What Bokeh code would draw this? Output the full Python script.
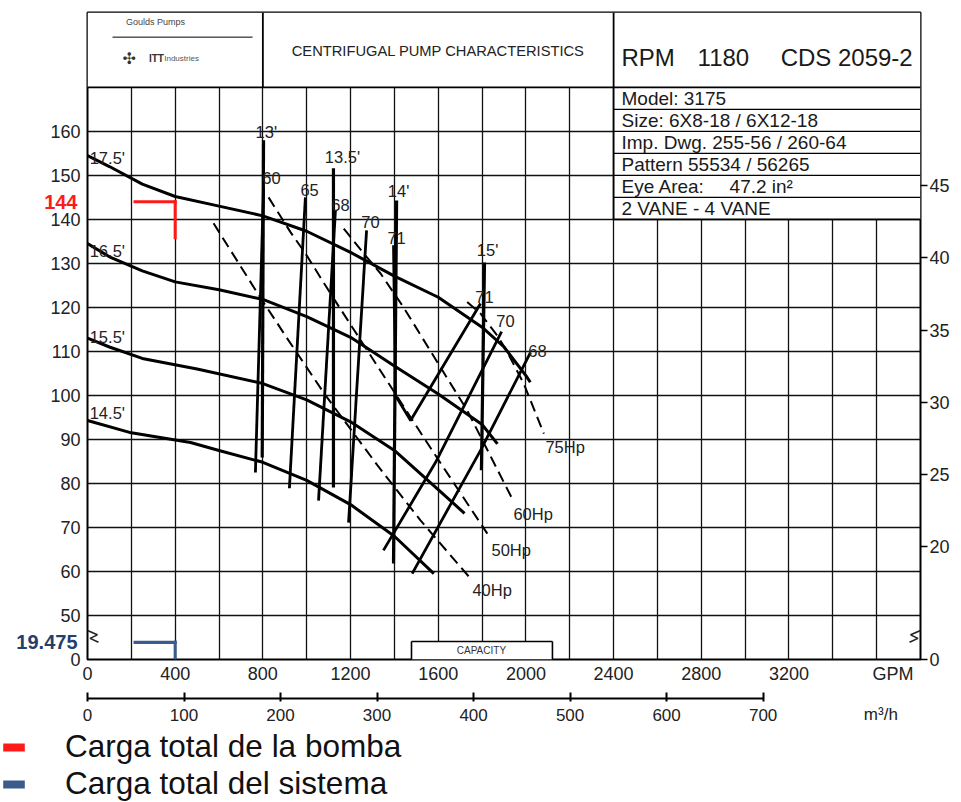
from bokeh.plotting import figure
from bokeh.layouts import column
from bokeh.models import (Range1d, LinearAxis, FixedTicker, Legend, LegendItem, ColumnDataSource)
from bokeh.core.properties import value
from bokeh.embed import file_html
from bokeh.resources import INLINE

FONT = "Liberation Sans"

# ---------------- data (capacity in GPM, head in ft) ----------------
imp_175_q = [0, 100, 250, 400, 600, 800, 1000, 1200, 1400, 1600, 1800, 1900, 2000, 2020]
imp_175_h = [154.5, 152, 148, 145.2, 143, 140.8, 137.3, 132.5, 127.1, 122.3, 115.5, 111, 104.5, 103]
imp_165_q = [0, 100, 250, 400, 600, 800, 1000, 1200, 1400, 1600, 1800, 1870]
imp_165_h = [134.5, 131.5, 128.3, 125.8, 124, 121.8, 117.9, 113.2, 106.7, 100.3, 93.4, 89]
imp_155_q = [0, 100, 250, 500, 800, 1000, 1200, 1400, 1600, 1720]
imp_155_h = [113, 111, 108.4, 106, 102.7, 99, 94, 87.5, 78.6, 73.2]
imp_145_q = [0, 200, 470, 600, 800, 1000, 1200, 1400, 1580]
imp_145_h = [94.3, 91.5, 89.3, 87.5, 84.8, 80.7, 75.2, 68, 59.5]
imp_labels = ["17.5'", "16.5'", "15.5'", "14.5'"]

# efficiency lines (%)
eff_60_q, eff_60_h = [803, 766], [147.0, 82.5]
eff_65_q, eff_65_h = [994, 921], [145.0, 78.9]
eff_68a_q, eff_68a_h = [1131, 1054], [142.0, 76.1]
eff_70a_q, eff_70a_h = [1273, 1191], [137.5, 71.1]
eff_71_q, eff_71_h = [1396, 1405, 1474, 1793], [134.1, 100.0, 94.3, 120.9]
eff_70b_q, eff_70b_h = [1889, 1588, 1350], [114.5, 84.8, 64.8]
eff_68b_q, eff_68b_h = [2021, 1793, 1481], [109.8, 87.5, 59.5]
eff_labels = ["60", "65", "68", "70", "71", "71", "70", "68"]

# NPSHR lines (ft)
npsh_13_q, npsh_13_h = [803, 797], [158.0, 85.9]
npsh_135_q, npsh_135_h = [1122, 1122], [151.6, 79.1]
npsh_14_q, npsh_14_h = [1410, 1396], [144.3, 61.8]
npsh_15_q, npsh_15_h = [1811, 1797], [130.2, 83.0]
npsh_labels = ["13'", "13.5'", "14'", "15'"]

# power lines (Hp)
hp_40_q = [575, 776, 917, 1086, 1323, 1519, 1747]
hp_40_h = [139.1, 123.2, 112.5, 100.0, 84.1, 71.6, 58.4]
hp_50_q = [826, 926, 995, 1109, 1542, 1824]
hp_50_h = [145.0, 137.1, 132.2, 123.1, 89.8, 68.6]
hp_60_q = [1169, 1259, 1337, 1442, 1610, 1732, 1945]
hp_60_h = [137.9, 132.3, 127.7, 120.0, 106.4, 96.6, 75.8]
hp_75_q = [1732, 1793, 1869, 1907, 1990, 2082]
hp_75_h = [121.2, 118.6, 113.6, 110.6, 102.7, 91.3]
hp_labels = ["40Hp", "50Hp", "60Hp", "75Hp"]

# operating point (400 GPM)
q_op = 400
q_mark = 210
h_bomba = 144
h_bomba_low = 135.5
h_sistema = 19.475
legend_labels = ["Carga total de la bomba", "Carga total del sistema"]

# axes
gpm_ticks = [0, 400, 800, 1200, 1600, 2000, 2400, 2800, 3200]
ft_ticks = [50, 60, 70, 80, 90, 100, 110, 120, 130, 140, 150, 160]
m_ticks = [20, 25, 30, 35, 40, 45]
m3h_ticks = [0, 100, 200, 300, 400, 500, 600, 700]
GPM_PER_M3H = 4.4029
FT_TO_M = 0.3048

# header text
title_text = "CENTRIFUGAL PUMP CHARACTERISTICS"
rpm_text = ["RPM", "1180", "CDS 2059-2"]
table_rows = ["Model: 3175", "Size: 6X8-18 / 6X12-18", "Imp. Dwg. 255-56 / 260-64",
              "Pattern 55534 / 56265", "Eye Area:", "2 VANE - 4 VANE"]

# ---------------- broken axis: 0..50 ft squeezed to one grid step ----------------
BASE = 40.0
def yb(h):
    return h if h >= 50 else BASE + h / 5.0

X0, X1, Y1 = 0, 3800, 187
TXT = "#1a1a1a"
RED, BLUE_LINE, BLUE_TXT = "#ff1a1a", "#3b5b8c", "#243f6e"
BAR_H, BAR_W = 0.7, 14

p = figure(width=961, height=728, x_range=Range1d(X0, X1), y_range=Range1d(BASE, Y1),
           output_backend="svg", toolbar_location=None,
           min_border_left=87, min_border_right=41, min_border_top=12, min_border_bottom=69,
           background_fill_color="white", border_fill_color="white")
p.outline_line_color = "black"
p.outline_line_width = 2

# grid
p.xgrid.ticker = FixedTicker(ticks=list(range(200, 3800, 200)))
p.ygrid.ticker = FixedTicker(ticks=ft_ticks)
for g in (p.xgrid, p.ygrid):
    g.grid_line_color = "#111111"
    g.grid_line_width = 1.3

# header blocks and capacity box
cap_top = yb(20.5)
p.quad(left=[0, 2400, 1478], right=[3800, 3800, 2121], bottom=[170, 140, BASE], top=[Y1, 170, cap_top],
       fill_color="white", line_color=None)
p.segment(x0=[0, 800, 2400, 2400, 2400, 2400, 2400, 2400, 2400, 1478, 1478, 2121, 114],
          y0=[170, 170, 140, 165, 160, 155, 150, 145, 140, cap_top, BASE, BASE, 181.4],
          x1=[3800, 800, 2400, 3800, 3800, 3800, 3800, 3800, 3800, 2121, 1478, 2121, 753],
          y1=[170, Y1, Y1, 165, 160, 155, 150, 145, 140, cap_top, cap_top, cap_top, 181.4],
          line_color="black",
          line_width=[1.8, 1.8, 1.8, 1.4, 1.4, 1.4, 1.4, 1.4, 1.6, 1.6, 1.6, 1.6, 1.0])

# axis-break marks just inside both edges of the squeezed 0-50 ft band
p.line([0, 45, 12, 50], [46.6, 45.6, 44.8, 43.9], line_color="#222222", line_width=1.6)
p.line([3800, 3755, 3788, 3750], [46.6, 45.6, 44.8, 43.9], line_color="#222222", line_width=1.6)

# curves
for q, h in [(imp_175_q, imp_175_h), (imp_165_q, imp_165_h), (imp_155_q, imp_155_h), (imp_145_q, imp_145_h)]:
    p.line(q, h, line_color="black", line_width=3)
for q, h in [(eff_60_q, eff_60_h), (eff_65_q, eff_65_h), (eff_68a_q, eff_68a_h), (eff_70a_q, eff_70a_h),
             (eff_71_q, eff_71_h), (eff_70b_q, eff_70b_h), (eff_68b_q, eff_68b_h)]:
    p.line(q, h, line_color="black", line_width=2.8)
for q, h in [(npsh_13_q, npsh_13_h), (npsh_135_q, npsh_135_h), (npsh_14_q, npsh_14_h), (npsh_15_q, npsh_15_h)]:
    p.line(q, h, line_color="black", line_width=3.2)
for q, h in [(hp_40_q, hp_40_h), (hp_50_q, hp_50_h), (hp_60_q, hp_60_h), (hp_75_q, hp_75_h)]:
    p.line(q, h, line_color="black", line_width=2, line_dash="11 6")

# operating point marks (bars of about 3 px thickness)
def op_marks(fig, y_top, y_low, color):
    r = fig.hbar(y=[y_top], left=[q_mark], right=[q_op + BAR_W / 2], height=BAR_H,
                 fill_color=color, line_color=None)
    fig.vbar(x=[q_op], bottom=[y_low], top=[y_top + BAR_H / 2], width=BAR_W,
             fill_color=color, line_color=None)
    return r

op_marks(p, h_bomba, h_bomba_low, RED)
op_marks(p, yb(h_sistema), yb(0), BLUE_LINE)

# chart texts
LBL = "16.5px"
left_src = ColumnDataSource(dict(
    x=[10, 10, 10, 10, 2089, 1943, 1843, 1756],
    y=[153.9, 132.7, 113.2, 95.9, 88.2, 73.0, 64.8, 55.9],
    t=imp_labels + ["75Hp", "60Hp", "50Hp", "40Hp"]))
p.text(x="x", y="y", text="t", source=left_src, text_font=value(FONT), text_font_size=LBL,
       text_align="left", text_baseline="middle", text_color="#222222")
ctr_src = ColumnDataSource(dict(
    x=[839, 1013, 1154, 1291, 1410, 1811, 1907, 2053, 816, 1163, 1419, 1825],
    y=[149.3, 146.6, 143.2, 139.3, 135.7, 122.3, 116.8, 110.2, 159.8, 154.1, 146.4, 133.0],
    t=eff_labels + npsh_labels))
p.text(x="x", y="y", text="t", source=ctr_src, text_font=value(FONT), text_font_size=LBL,
       text_align="center", text_baseline="middle", text_color="#222222")
p.text(x=[1797], y=[42.1], text=["CAPACITY"], text_font=value(FONT), text_font_size="10px",
       text_align="center", text_baseline="middle", text_color="#333333")

# header texts
p.text(x=[1600], y=[178.2], text=[title_text], text_font=value(FONT), text_font_size="14.7px",
       text_align="center", text_baseline="middle", text_color="#222222")
p.text(x=[2436, 2783, 3162], y=[176.8] * 3, text=rpm_text, text_font=value(FONT),
       text_font_size="24px", text_align="left", text_baseline="middle", text_color=TXT)
p.text(x=[2436] * 6, y=[167.5, 162.5, 157.5, 152.5, 147.5, 142.5], text=table_rows,
       text_font=value(FONT), text_font_size="19px", text_align="left", text_baseline="middle",
       text_color=TXT)
p.text(x=[2929], y=[147.5], text=["47.2 in²"], text_font=value(FONT), text_font_size="19px",
       text_align="left", text_baseline="middle", text_color=TXT)
p.text(x=[310], y=[184.8], text=["Goulds Pumps"], text_font=value(FONT), text_font_size="9px",
       text_align="center", text_baseline="middle", text_color="#444444")
p.text(x=[190], y=[176.6], text=["✣"], text_font=value("DejaVu Sans"), text_font_size="16px",
       text_align="center", text_baseline="middle", text_color="#333333")
p.text(x=[280], y=[176.6], text=["ITT"], text_font=value(FONT), text_font_size="10px",
       text_font_style="bold", text_align="left", text_baseline="middle", text_color="#333333")
p.text(x=[350], y=[176.6], text=["Industries"], text_font=value(FONT), text_font_size="8px",
       text_align="left", text_baseline="middle", text_color="#555555")

# ---------------- axes ----------------
AX = "18px"
def style(ax, size=AX, color="#222222"):
    ax.minor_tick_line_color = None
    ax.major_label_text_font = FONT
    ax.major_label_text_font_size = size
    ax.major_label_text_color = color

ya = p.yaxis[0]
ya.ticker = FixedTicker(ticks=[BASE] + ft_ticks)
ya.major_label_overrides = {BASE: "0"}
ya.axis_line_color = None
ya.major_tick_out = 0
ya.major_tick_in = 0
ya.major_label_standoff = 7
style(ya)

# operating-point values, drawn back over the head-scale column
ax_b = LinearAxis(ticker=FixedTicker(ticks=[h_bomba]), axis_line_color=None,
                  major_tick_out=0, major_tick_in=0, major_label_standoff=-30,
                  major_label_text_font_style="bold")
style(ax_b, "20px", RED)
p.add_layout(ax_b, "left")
ax_s = LinearAxis(ticker=FixedTicker(ticks=[yb(h_sistema)]),
                  major_label_overrides={yb(h_sistema): f"{h_sistema:g}"}, axis_line_color=None,
                  major_tick_out=0, major_tick_in=0, major_label_standoff=-36,
                  major_label_text_font_style="bold")
style(ax_s, "20px", BLUE_TXT)
p.add_layout(ax_s, "left")

p.extra_y_ranges = {"m": Range1d(BASE * FT_TO_M, Y1 * FT_TO_M)}
ra = LinearAxis(y_range_name="m", ticker=FixedTicker(ticks=[BASE * FT_TO_M] + m_ticks))
ra.major_label_overrides = {BASE * FT_TO_M: "0"}
ra.axis_line_color = None
ra.major_tick_out = 7
ra.major_tick_in = 0
ra.major_tick_line_width = 1.5
ra.major_label_standoff = 2
style(ra)
p.add_layout(ra, "right")

xa = p.xaxis[0]
xa.ticker = FixedTicker(ticks=gpm_ticks + [3675])
xa.major_label_overrides = {3675: "GPM"}
xa.axis_line_color = None
xa.major_tick_out = 0
xa.major_tick_in = 0
xa.major_label_standoff = 4
style(xa)

spacer = LinearAxis(ticker=FixedTicker(ticks=[X0]), major_label_overrides={X0: ""},
                    axis_line_color=None, major_tick_out=12, major_tick_in=0,
                    major_tick_line_color=None, major_label_standoff=0)
style(spacer, "1px")
p.add_layout(spacer, "below")

p.extra_x_ranges = {"m3h": Range1d(X0 / GPM_PER_M3H, X1 / GPM_PER_M3H)}
ma = LinearAxis(x_range_name="m3h", ticker=FixedTicker(ticks=m3h_ticks), bounds=(0, 700))
ma.axis_line_width = 2
ma.major_tick_in = 6
ma.major_tick_out = 3
ma.major_tick_line_width = 2
ma.major_label_standoff = 7
style(ma, "17px")
p.add_layout(ma, "below")

unit_ax = LinearAxis(x_range_name="m3h", ticker=FixedTicker(ticks=[822]),
                     major_label_overrides={822: "m³/h"}, axis_line_color=None,
                     major_tick_out=0, major_tick_in=0, major_tick_line_color=None,
                     major_label_standoff=-19)
style(unit_ax, "17px")
p.add_layout(unit_ax, "below")

# ---------------- legend strip ----------------
leg = figure(width=961, height=74, x_range=Range1d(0, 1), y_range=Range1d(0, 1),
             output_backend="svg", toolbar_location=None, min_border=0,
             x_axis_type=None, y_axis_type=None)
if "frame_align" in leg.properties():
    leg.frame_align = False
leg.outline_line_color = None
leg.xgrid.visible = False
leg.ygrid.visible = False
# same operating-point marks, outside this strip's ranges: only their legend swatches show
r_red = leg.hbar(y=[h_bomba], left=[q_mark], right=[q_op], height=BAR_H, fill_color=RED, line_color=None)
r_blue = leg.hbar(y=[yb(h_sistema)], left=[q_mark], right=[q_op], height=BAR_H,
                  fill_color=BLUE_LINE, line_color=None)
legend = Legend(items=[LegendItem(label=legend_labels[0], renderers=[r_red]),
                       LegendItem(label=legend_labels[1], renderers=[r_blue])],
                location=(0, 0), orientation="vertical",
                label_text_font=FONT, label_text_font_size="31.5px", label_text_color="#111111",
                glyph_width=27, glyph_height=10, label_standoff=38, padding=0, spacing=-3,
                margin=0, border_line_color=None, background_fill_alpha=0)
leg.add_layout(legend)

open("out.html", "w").write(file_html(column(p, leg, spacing=0), INLINE))
